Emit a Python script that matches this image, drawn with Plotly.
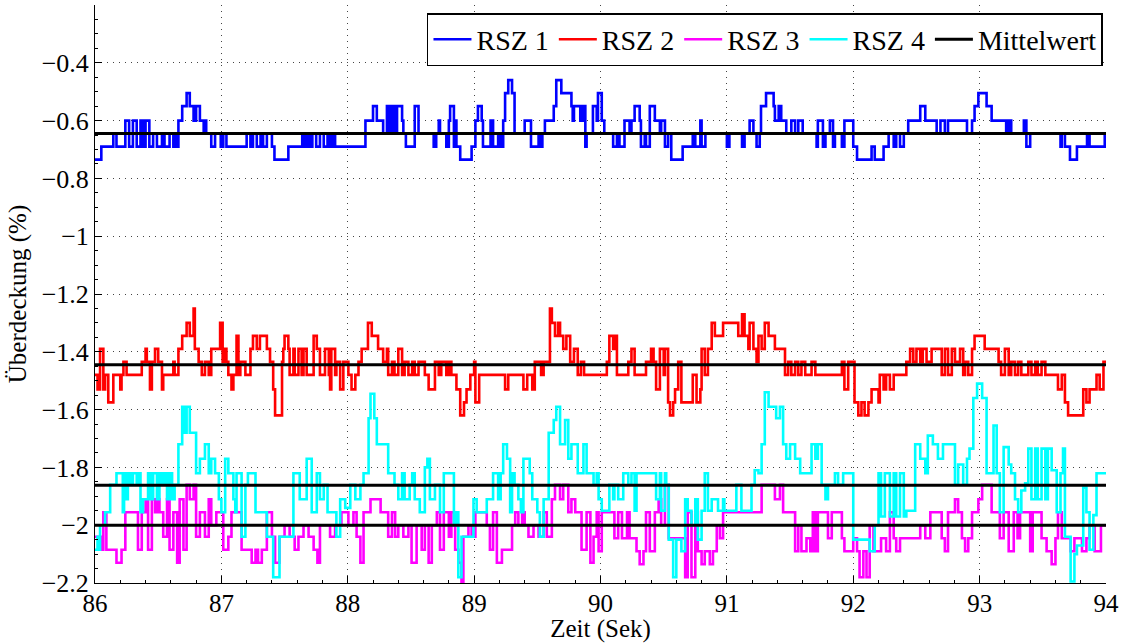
import plotly.graph_objects as go

# ---- data: step series as (time [s], value [%]) breakpoints ----
rsz1_steps = [
    (86.00, -0.735), (86.05, -0.69), (86.145, -0.645), (86.17, -0.69), (86.24, -0.60), (86.27, -0.69),
    (86.30, -0.60), (86.33, -0.69), (86.36, -0.60), (86.38, -0.69), (86.40, -0.60), (86.43, -0.69),
    (86.46, -0.645), (86.49, -0.69), (86.53, -0.645), (86.55, -0.69), (86.59, -0.645), (86.62, -0.69),
    (86.63, -0.645), (86.65, -0.69), (86.66, -0.60), (86.69, -0.55), (86.725, -0.505), (86.75, -0.55),
    (86.78, -0.60), (86.80, -0.55), (86.83, -0.60), (86.86, -0.645), (86.87, -0.60), (86.88, -0.645),
    (86.92, -0.69), (86.95, -0.645), (86.995, -0.69), (87.015, -0.645), (87.04, -0.69), (87.20, -0.645),
    (87.23, -0.69), (87.25, -0.645), (87.28, -0.69), (87.31, -0.645), (87.33, -0.69), (87.36, -0.645),
    (87.40, -0.69), (87.42, -0.735), (87.53, -0.69), (87.64, -0.645), (87.66, -0.69), (87.68, -0.645),
    (87.70, -0.69), (87.72, -0.645), (87.75, -0.69), (87.78, -0.645), (87.81, -0.69), (87.84, -0.645),
    (87.86, -0.69), (87.88, -0.645), (87.90, -0.69), (88.14, -0.60), (88.20, -0.55), (88.23, -0.60),
    (88.28, -0.645), (88.31, -0.55), (88.33, -0.645), (88.35, -0.55), (88.37, -0.645), (88.39, -0.55),
    (88.43, -0.60), (88.44, -0.645), (88.46, -0.69), (88.53, -0.55), (88.56, -0.645), (88.68, -0.69),
    (88.70, -0.645), (88.72, -0.60), (88.73, -0.645), (88.78, -0.69), (88.80, -0.60), (88.81, -0.55),
    (88.84, -0.69), (88.85, -0.60), (88.86, -0.69), (88.89, -0.735), (88.98, -0.69), (89.01, -0.60),
    (89.03, -0.55), (89.06, -0.60), (89.07, -0.69), (89.13, -0.60), (89.15, -0.69), (89.19, -0.645),
    (89.21, -0.69), (89.23, -0.60), (89.245, -0.505), (89.27, -0.46), (89.30, -0.505), (89.32, -0.645),
    (89.40, -0.60), (89.45, -0.69), (89.51, -0.645), (89.52, -0.69), (89.54, -0.645), (89.56, -0.60),
    (89.63, -0.55), (89.65, -0.46), (89.69, -0.505), (89.77, -0.55), (89.78, -0.60), (89.79, -0.55),
    (89.84, -0.60), (89.86, -0.55), (89.88, -0.69), (89.89, -0.645), (89.94, -0.55), (89.97, -0.60),
    (89.98, -0.505), (90.01, -0.60), (90.03, -0.645), (90.10, -0.69), (90.13, -0.645), (90.15, -0.69),
    (90.19, -0.60), (90.23, -0.645), (90.245, -0.60), (90.27, -0.55), (90.31, -0.60), (90.32, -0.69),
    (90.35, -0.645), (90.36, -0.69), (90.39, -0.55), (90.43, -0.60), (90.47, -0.645), (90.48, -0.60),
    (90.51, -0.69), (90.535, -0.645), (90.56, -0.735), (90.65, -0.69), (90.73, -0.645), (90.75, -0.69),
    (90.79, -0.60), (90.80, -0.69), (90.83, -0.645), (91.00, -0.69), (91.02, -0.645), (91.12, -0.69),
    (91.14, -0.645), (91.18, -0.60), (91.21, -0.645), (91.235, -0.69), (91.26, -0.645), (91.27, -0.55),
    (91.31, -0.505), (91.37, -0.55), (91.38, -0.60), (91.41, -0.55), (91.43, -0.60), (91.47, -0.645),
    (91.51, -0.60), (91.54, -0.645), (91.565, -0.60), (91.60, -0.645), (91.71, -0.69), (91.72, -0.60),
    (91.76, -0.69), (91.78, -0.645), (91.815, -0.60), (91.84, -0.69), (91.855, -0.645), (91.91, -0.69),
    (91.93, -0.60), (92.00, -0.69), (92.03, -0.735), (92.145, -0.69), (92.17, -0.735), (92.24, -0.69),
    (92.28, -0.645), (92.32, -0.69), (92.34, -0.645), (92.37, -0.69), (92.40, -0.645), (92.435, -0.60),
    (92.53, -0.55), (92.57, -0.60), (92.66, -0.645), (92.69, -0.60), (92.725, -0.645), (92.75, -0.60),
    (92.90, -0.645), (92.94, -0.60), (92.96, -0.55), (92.99, -0.505), (93.055, -0.55), (93.095, -0.60),
    (93.21, -0.645), (93.23, -0.60), (93.25, -0.645), (93.35, -0.60), (93.37, -0.69), (93.40, -0.645),
    (93.64, -0.69), (93.65, -0.645), (93.675, -0.69), (93.715, -0.735), (93.77, -0.69), (93.85, -0.645),
    (93.87, -0.69), (93.99, -0.645), (94.00, -0.645),
]

rsz2_steps = [
    (86.00, -1.48), (86.02, -1.53), (86.04, -1.39), (86.066, -1.53), (86.08, -1.48), (86.105, -1.575),
    (86.145, -1.48), (86.20, -1.53), (86.21, -1.48), (86.225, -1.435), (86.25, -1.48), (86.37, -1.435),
    (86.40, -1.39), (86.41, -1.435), (86.435, -1.53), (86.45, -1.435), (86.475, -1.39), (86.50, -1.435),
    (86.53, -1.53), (86.54, -1.48), (86.62, -1.435), (86.63, -1.48), (86.66, -1.39), (86.69, -1.345),
    (86.725, -1.30), (86.75, -1.345), (86.78, -1.25), (86.79, -1.39), (86.82, -1.435), (86.845, -1.48),
    (86.87, -1.435), (86.90, -1.48), (86.92, -1.39), (86.99, -1.30), (87.01, -1.435), (87.03, -1.39),
    (87.04, -1.435), (87.055, -1.48), (87.08, -1.53), (87.095, -1.48), (87.12, -1.345), (87.135, -1.48),
    (87.15, -1.435), (87.19, -1.48), (87.23, -1.39), (87.25, -1.345), (87.28, -1.39), (87.305, -1.345),
    (87.36, -1.39), (87.385, -1.435), (87.41, -1.53), (87.425, -1.62), (87.48, -1.435), (87.49, -1.39),
    (87.50, -1.345), (87.53, -1.39), (87.54, -1.48), (87.57, -1.39), (87.58, -1.48), (87.61, -1.39),
    (87.635, -1.48), (87.65, -1.39), (87.675, -1.48), (87.73, -1.345), (87.755, -1.39), (87.78, -1.48),
    (87.82, -1.39), (87.85, -1.48), (87.86, -1.53), (87.87, -1.39), (87.90, -1.48), (87.91, -1.435),
    (87.94, -1.53), (87.965, -1.435), (88.005, -1.48), (88.03, -1.53), (88.06, -1.48), (88.085, -1.435),
    (88.11, -1.39), (88.16, -1.30), (88.19, -1.345), (88.24, -1.39), (88.28, -1.435), (88.31, -1.39),
    (88.32, -1.48), (88.35, -1.435), (88.37, -1.48), (88.40, -1.39), (88.43, -1.48), (88.45, -1.435),
    (88.48, -1.48), (88.51, -1.435), (88.53, -1.48), (88.56, -1.435), (88.61, -1.48), (88.64, -1.53),
    (88.69, -1.435), (88.72, -1.48), (88.74, -1.435), (88.78, -1.48), (88.80, -1.435), (88.82, -1.48),
    (88.86, -1.53), (88.89, -1.62), (88.92, -1.575), (88.94, -1.53), (88.97, -1.48), (89.00, -1.435),
    (89.01, -1.575), (89.04, -1.48), (89.245, -1.53), (89.27, -1.48), (89.39, -1.53), (89.42, -1.48),
    (89.46, -1.53), (89.48, -1.435), (89.53, -1.48), (89.55, -1.435), (89.60, -1.25), (89.615, -1.30),
    (89.64, -1.345), (89.665, -1.30), (89.68, -1.345), (89.705, -1.39), (89.73, -1.345), (89.76, -1.435),
    (89.79, -1.39), (89.82, -1.48), (89.845, -1.435), (89.87, -1.48), (90.05, -1.435), (90.07, -1.345),
    (90.10, -1.39), (90.11, -1.345), (90.13, -1.48), (90.22, -1.435), (90.245, -1.39), (90.27, -1.48),
    (90.36, -1.435), (90.40, -1.39), (90.42, -1.435), (90.44, -1.53), (90.47, -1.39), (90.50, -1.48),
    (90.51, -1.39), (90.535, -1.575), (90.55, -1.62), (90.575, -1.575), (90.59, -1.53), (90.615, -1.435),
    (90.64, -1.575), (90.73, -1.48), (90.76, -1.575), (90.79, -1.53), (90.80, -1.39), (90.825, -1.48),
    (90.85, -1.39), (90.88, -1.30), (90.905, -1.345), (90.97, -1.30), (91.09, -1.345), (91.12, -1.27),
    (91.14, -1.345), (91.17, -1.39), (91.18, -1.30), (91.21, -1.39), (91.235, -1.435), (91.25, -1.345),
    (91.275, -1.39), (91.30, -1.30), (91.33, -1.345), (91.38, -1.39), (91.46, -1.48), (91.485, -1.435),
    (91.51, -1.48), (91.54, -1.435), (91.565, -1.48), (91.59, -1.435), (91.62, -1.48), (91.67, -1.435),
    (91.70, -1.48), (91.91, -1.435), (91.93, -1.53), (91.96, -1.435), (92.01, -1.575), (92.04, -1.62),
    (92.065, -1.575), (92.09, -1.62), (92.12, -1.575), (92.145, -1.53), (92.20, -1.575), (92.21, -1.48),
    (92.24, -1.53), (92.26, -1.48), (92.29, -1.53), (92.32, -1.48), (92.42, -1.435), (92.45, -1.39),
    (92.475, -1.435), (92.50, -1.39), (92.53, -1.435), (92.55, -1.39), (92.58, -1.435), (92.62, -1.39),
    (92.70, -1.48), (92.725, -1.39), (92.75, -1.48), (92.78, -1.39), (92.805, -1.435), (92.845, -1.39),
    (92.87, -1.48), (92.885, -1.435), (92.91, -1.48), (92.94, -1.39), (92.96, -1.345), (93.04, -1.39),
    (93.15, -1.435), (93.17, -1.48), (93.20, -1.39), (93.23, -1.48), (93.25, -1.435), (93.28, -1.48),
    (93.305, -1.435), (93.33, -1.48), (93.385, -1.435), (93.41, -1.48), (93.44, -1.435), (93.46, -1.48),
    (93.49, -1.435), (93.52, -1.48), (93.62, -1.53), (93.65, -1.48), (93.675, -1.575), (93.70, -1.62),
    (93.82, -1.53), (93.845, -1.575), (93.87, -1.53), (93.925, -1.48), (93.95, -1.53), (93.98, -1.435),
    (94.00, -1.435),
]

rsz3_steps = [
    (86.00, -2.04), (86.05, -2.085), (86.066, -1.955), (86.09, -2.085), (86.17, -2.13), (86.21, -2.085),
    (86.24, -1.955), (86.34, -2.085), (86.37, -1.955), (86.40, -1.91), (86.42, -2.085), (86.45, -1.91),
    (86.475, -1.955), (86.49, -1.91), (86.51, -1.955), (86.54, -2.04), (86.57, -1.91), (86.59, -2.085),
    (86.62, -1.955), (86.65, -2.13), (86.67, -1.91), (86.70, -2.085), (86.725, -1.86), (86.75, -1.91),
    (86.78, -1.86), (86.80, -2.04), (86.83, -1.955), (86.87, -2.04), (86.90, -1.91), (86.92, -2.0),
    (86.96, -1.955), (87.015, -2.085), (87.055, -2.04), (87.08, -1.955), (87.16, -2.085), (87.24, -2.13),
    (87.27, -2.085), (87.29, -2.13), (87.32, -2.085), (87.36, -1.955), (87.40, -2.04), (87.425, -2.13),
    (87.46, -2.04), (87.50, -2.0), (87.54, -2.04), (87.58, -2.085), (87.61, -2.04), (87.65, -2.0),
    (87.69, -2.04), (87.73, -2.085), (87.76, -2.13), (87.78, -2.0), (87.86, -2.04), (87.90, -2.0),
    (87.95, -1.955), (88.005, -2.0), (88.045, -1.955), (88.07, -2.04), (88.10, -2.13), (88.125, -1.955),
    (88.18, -1.91), (88.26, -1.955), (88.32, -2.04), (88.35, -1.955), (88.375, -2.04), (88.40, -2.0),
    (88.44, -2.04), (88.48, -2.0), (88.505, -2.13), (88.545, -2.0), (88.585, -2.085), (88.61, -2.0),
    (88.64, -2.13), (88.665, -2.0), (88.705, -1.955), (88.73, -2.085), (88.76, -1.955), (88.80, -2.04),
    (88.82, -1.955), (88.85, -2.085), (88.875, -2.13), (88.90, -2.2), (88.915, -2.04), (88.955, -2.0),
    (88.98, -2.04), (89.01, -1.955), (89.10, -2.0), (89.125, -2.085), (89.15, -1.955), (89.18, -2.13),
    (89.22, -2.085), (89.30, -2.0), (89.325, -1.955), (89.35, -2.0), (89.38, -1.955), (89.40, -2.0),
    (89.43, -2.04), (89.47, -2.0), (89.51, -2.04), (89.55, -1.955), (89.575, -2.04), (89.615, -1.91),
    (89.64, -1.86), (89.68, -1.91), (89.705, -1.86), (89.745, -1.955), (89.77, -1.91), (89.80, -1.955),
    (89.85, -2.085), (89.89, -1.955), (89.92, -2.13), (89.945, -2.04), (89.97, -1.955), (89.985, -2.09),
    (90.01, -1.955), (90.11, -2.045), (90.14, -1.955), (90.17, -2.045), (90.21, -1.955), (90.23, -2.045),
    (90.285, -2.09), (90.31, -2.135), (90.34, -2.09), (90.36, -1.955), (90.39, -2.09), (90.43, -1.955),
    (90.46, -1.91), (90.48, -2.0), (90.51, -1.86), (90.54, -2.045), (90.67, -2.18), (90.69, -1.955),
    (90.72, -2.18), (90.75, -1.955), (90.77, -2.09), (90.80, -2.135), (90.825, -2.09), (90.865, -2.135),
    (90.89, -2.09), (90.92, -2.0), (90.945, -2.045), (90.97, -1.955), (91.275, -1.86), (91.38, -1.91),
    (91.42, -1.86), (91.445, -1.955), (91.54, -2.09), (91.565, -2.0), (91.59, -2.09), (91.63, -2.045),
    (91.66, -2.09), (91.68, -1.955), (91.70, -2.09), (91.72, -1.955), (91.80, -2.045), (91.83, -1.955),
    (91.91, -2.045), (91.93, -2.09), (92.00, -2.045), (92.03, -2.09), (92.05, -2.18), (92.08, -2.09),
    (92.105, -2.18), (92.13, -2.0), (92.16, -2.09), (92.22, -2.045), (92.26, -2.09), (92.29, -1.955),
    (92.32, -2.045), (92.34, -2.09), (92.37, -2.045), (92.53, -2.0), (92.57, -2.045), (92.61, -1.955),
    (92.70, -2.045), (92.725, -2.09), (92.75, -1.955), (92.805, -1.91), (92.83, -1.955), (92.86, -2.045),
    (92.885, -2.09), (92.91, -2.045), (92.94, -1.955), (92.99, -1.91), (93.02, -1.86), (93.095, -1.955),
    (93.16, -2.045), (93.19, -1.955), (93.23, -2.09), (93.27, -1.955), (93.30, -2.045), (93.32, -1.955),
    (93.40, -2.09), (93.42, -1.955), (93.49, -2.045), (93.53, -2.09), (93.57, -2.135), (93.60, -2.045),
    (93.62, -1.955), (93.65, -2.045), (93.72, -2.09), (93.75, -2.045), (93.81, -2.09), (93.845, -2.045),
    (93.87, -2.0), (93.91, -2.09), (93.96, -2.0), (94.00, -2.0),
]

rsz4_steps = [
    (86.00, -2.085), (86.02, -2.04), (86.03, -2.085), (86.04, -2.0), (86.08, -1.955), (86.12, -1.86),
    (86.17, -1.82), (86.22, -1.955), (86.23, -1.82), (86.25, -1.91), (86.26, -1.82), (86.28, -1.86),
    (86.30, -1.82), (86.33, -1.86), (86.34, -1.82), (86.36, -1.955), (86.38, -1.91), (86.42, -1.82),
    (86.44, -1.91), (86.46, -1.82), (86.49, -1.91), (86.51, -1.82), (86.53, -1.86), (86.55, -1.82),
    (86.57, -1.91), (86.59, -1.82), (86.61, -1.91), (86.63, -1.86), (86.66, -1.72), (86.69, -1.59),
    (86.71, -1.68), (86.725, -1.59), (86.75, -1.68), (86.80, -1.82), (86.83, -1.77), (86.87, -1.72),
    (86.90, -1.82), (86.92, -1.77), (86.95, -1.82), (86.98, -1.91), (87.00, -1.955), (87.03, -1.77),
    (87.055, -1.82), (87.095, -1.91), (87.11, -1.955), (87.12, -1.82), (87.16, -2.04), (87.19, -1.86),
    (87.21, -1.82), (87.27, -1.955), (87.36, -2.04), (87.41, -2.18), (87.46, -2.04), (87.57, -1.82),
    (87.62, -1.91), (87.675, -1.77), (87.715, -1.955), (87.755, -1.82), (87.78, -1.91), (87.81, -1.86),
    (87.84, -1.955), (87.91, -2.04), (87.94, -1.91), (87.98, -1.94), (88.02, -1.86), (88.06, -1.91),
    (88.10, -1.86), (88.125, -1.82), (88.165, -1.63), (88.18, -1.545), (88.21, -1.63), (88.23, -1.72),
    (88.32, -1.82), (88.37, -1.86), (88.40, -1.91), (88.43, -1.82), (88.45, -1.91), (88.49, -1.86),
    (88.51, -1.82), (88.53, -1.91), (88.57, -1.955), (88.61, -1.80), (88.63, -1.77), (88.65, -1.91),
    (88.69, -1.86), (88.73, -1.955), (88.76, -1.82), (88.84, -2.0), (88.86, -1.955), (88.875, -2.18),
    (88.90, -2.04), (88.995, -1.91), (89.02, -1.955), (89.10, -1.91), (89.15, -1.82), (89.19, -1.91),
    (89.21, -1.82), (89.23, -1.72), (89.26, -1.77), (89.285, -1.955), (89.30, -1.82), (89.32, -1.86),
    (89.35, -1.91), (89.37, -1.955), (89.39, -1.77), (89.44, -1.82), (89.46, -1.91), (89.50, -1.955),
    (89.52, -2.04), (89.55, -1.91), (89.59, -1.68), (89.63, -1.636), (89.65, -1.59), (89.68, -1.72),
    (89.72, -1.636), (89.745, -1.77), (89.77, -1.72), (89.82, -1.82), (89.865, -1.72), (89.89, -1.82),
    (89.945, -1.86), (89.97, -1.82), (89.985, -1.91), (90.01, -1.95), (90.07, -1.86), (90.10, -1.91),
    (90.11, -1.86), (90.14, -1.91), (90.18, -1.82), (90.22, -1.86), (90.245, -1.82), (90.27, -1.95),
    (90.285, -1.82), (90.44, -1.91), (90.47, -1.82), (90.48, -1.95), (90.51, -1.82), (90.52, -1.86),
    (90.54, -2.05), (90.575, -2.18), (90.60, -2.05), (90.64, -2.09), (90.67, -1.91), (90.69, -1.95),
    (90.72, -2.0), (90.75, -1.91), (90.77, -2.05), (90.80, -1.95), (90.825, -1.82), (90.85, -1.95),
    (90.88, -1.91), (90.93, -1.95), (90.97, -1.91), (90.98, -1.95), (91.075, -1.86), (91.115, -1.95),
    (91.195, -1.86), (91.22, -1.81), (91.25, -1.82), (91.275, -1.72), (91.30, -1.54), (91.33, -1.59),
    (91.39, -1.63), (91.42, -1.59), (91.445, -1.72), (91.47, -1.77), (91.50, -1.72), (91.54, -1.77),
    (91.58, -1.82), (91.67, -1.72), (91.70, -1.77), (91.72, -1.72), (91.75, -1.86), (91.78, -1.91),
    (91.80, -1.86), (91.855, -1.82), (91.88, -1.86), (91.92, -1.82), (92.00, -2.05), (92.13, -2.09),
    (92.17, -2.0), (92.20, -1.82), (92.22, -1.97), (92.25, -1.82), (92.29, -1.97), (92.32, -1.82),
    (92.34, -1.97), (92.37, -1.82), (92.40, -1.97), (92.42, -1.95), (92.49, -1.72), (92.53, -1.77),
    (92.57, -1.82), (92.59, -1.69), (92.63, -1.72), (92.67, -1.77), (92.71, -1.72), (92.805, -1.86),
    (92.83, -1.79), (92.87, -1.86), (92.90, -1.77), (92.92, -1.735), (92.95, -1.56), (92.98, -1.51),
    (93.02, -1.56), (93.055, -1.82), (93.11, -1.655), (93.135, -1.82), (93.16, -1.955), (93.19, -1.73),
    (93.23, -1.79), (93.25, -1.82), (93.28, -1.91), (93.305, -1.955), (93.33, -1.88), (93.36, -1.855),
    (93.385, -1.735), (93.41, -1.91), (93.44, -1.735), (93.46, -1.91), (93.49, -1.735), (93.52, -1.91),
    (93.54, -1.735), (93.57, -1.81), (93.61, -1.955), (93.64, -1.82), (93.66, -1.735), (93.675, -2.04),
    (93.72, -2.195), (93.75, -2.1), (93.77, -2.07), (93.82, -1.87), (93.845, -1.955), (93.87, -2.085),
    (93.90, -1.965), (93.925, -1.82), (94.00, -1.82),
]

series_names = ["RSZ 1", "RSZ 2", "RSZ 3", "RSZ 4"]
series_colors = ["#0000FF", "#FF0000", "#FF00FF", "#00FFFF"]
mean_values = [-0.645, -1.445, -2.0, -1.862]
mean_label = "Mittelwert"

x_range = [86, 94]
x_ticks = [86, 87, 88, 89, 90, 91, 92, 93, 94]
y_range = [-2.2, -0.2]
y_ticks = [-2.2, -2.0, -1.8, -1.6, -1.4, -1.2, -1.0, -0.8, -0.6, -0.4]
y_ticklabels = ["\u22122.2", "\u22122", "\u22121.8", "\u22121.6", "\u22121.4", "\u22121.2",
                "\u22121", "\u22120.8", "\u22120.6", "\u22120.4"]

x_title = "Zeit (Sek)"
y_title = "Überdeckung (%)"

FONT = "Liberation Serif"

fig = go.Figure()
for name, color, steps in zip(series_names, series_colors,
                              [rsz1_steps, rsz2_steps, rsz3_steps, rsz4_steps]):
    fig.add_trace(go.Scatter(
        x=[p[0] for p in steps], y=[p[1] for p in steps],
        mode="lines", name=name, line=dict(color=color, width=2.6, shape="hv"),
    ))

for i, m in enumerate(mean_values):
    fig.add_trace(go.Scatter(
        x=x_range, y=[m, m], mode="lines", name=mean_label,
        line=dict(color="black", width=3), showlegend=(i == 0),
    ))

fig.update_layout(
    width=1127, height=643,
    margin=dict(l=95, r=21, t=5, b=60),
    paper_bgcolor="white", plot_bgcolor="white",
    font=dict(family=FONT, size=25, color="black"),
    showlegend=True,
    legend=dict(
        orientation="h", x=0.997, y=0.986, xanchor="right", yanchor="top",
        bgcolor="white", bordercolor="black", borderwidth=1.5,
        font=dict(family=FONT, size=28, color="black"),
        itemwidth=38, tracegroupgap=0,
    ),
    xaxis=dict(
        range=x_range, tickvals=x_ticks, showgrid=True,
        gridcolor="#444444", griddash="1px,5px", gridwidth=1,
        showline=True, linecolor="black", linewidth=1, mirror=False,
        ticks="inside", ticklen=7, tickwidth=1, tickcolor="black",
        zeroline=False, tickfont=dict(family=FONT, size=25), ticklabelstandoff=-2,
        title=dict(text=x_title, font=dict(family=FONT, size=25), standoff=3),
        minor=dict(ticks="inside", ticklen=3, dtick=0.2, tickcolor="black", showgrid=False),
    ),
    yaxis=dict(
        range=y_range, tickvals=y_ticks, ticktext=y_ticklabels, showgrid=True,
        gridcolor="#444444", griddash="1px,5px", gridwidth=1,
        showline=True, linecolor="black", linewidth=1, mirror=False,
        ticks="inside", ticklen=7, tickwidth=1, tickcolor="black",
        zeroline=False, tickfont=dict(family=FONT, size=26),
        title=dict(text=y_title, font=dict(family=FONT, size=25), standoff=7),
        minor=dict(ticks="inside", ticklen=3, dtick=0.05, tickcolor="black", showgrid=False),
    ),
)

fig.write_html("out.html")
